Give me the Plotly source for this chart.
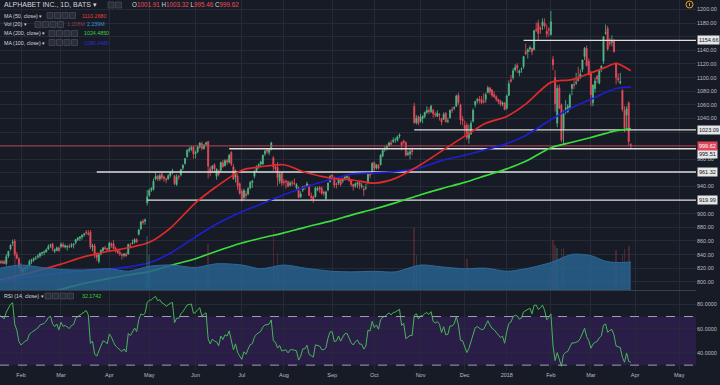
import plotly.graph_objects as go
import pandas as pd
import numpy as np

# ---------------- DATA ----------------
HOLIDAYS = ['2017-01-16', '2017-02-20', '2017-04-14', '2017-05-29', '2017-07-04', '2017-09-04',
            '2017-11-23', '2017-12-25', '2018-01-01', '2018-01-15', '2018-02-19', '2018-03-30']

# Dec 2016 closes (only used to warm up the RSI)
WARMUP_CLOSE = [768, 770, 780, 786, 792, 798, 809, 807, 815, 812, 817, 809, 813, 815, 813, 808, 808, 809, 803, 802, 792]

open_ = [
    800, 809, 808, 814, 826, 829, 827, 828, 831, 830, 829, 830, 830, 827, 838, 848, 857, 860, 840, 834,  # Jan 17
    824, 815, 820, 821, 823, 830, 832, 835, 837, 838, 842, 843, 844, 848, 853, 856, 845, 846, 850,  # Feb
    852, 855, 851, 851, 852, 852, 854, 858, 862, 864, 866, 869, 873, 871, 873, 851, 853, 840, 830, 841, 846, 850, 849,  # Mar
    848, 856, 856, 849, 846, 843, 840, 839, 841, 841, 853, 856, 858, 862, 870, 878, 889, 889, 916,  # Apr
    927, 935, 936, 951, 955, 951, 958, 954, 951, 951, 956, 962, 956, 943, 955, 957, 967, 974, 984, 993, 995, 998,  # May
    988, 991, 998, 1003, 996, 1002, 1006, 966, 966, 972, 955, 963, 964, 975, 971, 978, 976, 990, 969, 954, 955, 944,  # Jun
    933, 924, 929, 929, 938, 946, 955, 963, 970, 973, 973, 988, 994, 990, 995, 982, 969, 968, 948, 960,  # Jul
    947, 948, 947, 942, 946, 945, 938, 938, 925, 935, 940, 941, 942, 926, 925, 925, 935, 939, 938, 932, 922, 935, 947,  # Aug
    957, 953, 944, 945, 950, 948, 952, 953, 953, 949, 943, 941, 944, 946, 940, 936, 938, 945, 958, 960,  # Sep
    975, 967, 971, 972, 985, 995, 997, 1000, 1004, 1006, 1009, 1008, 1014, 1005, 1007, 1005, 987, 988, 993, 1058, 1034, 1043,  # Oct
    1036, 1040, 1043, 1049, 1052, 1050, 1052, 1046, 1043, 1046, 1040, 1039, 1048, 1036, 1041, 1053, 1055, 1058, 1074, 1060, 1039,  # Nov
    1030, 1030, 1011, 1017, 1036, 1060, 1066, 1068, 1068, 1066, 1068, 1078, 1085, 1082, 1075, 1072, 1068, 1066, 1061, 1063,  # Dec
    1055, 1074, 1097, 1100, 1111, 1118, 1107, 1112, 1116, 1138, 1138, 1142, 1143, 1141, 1171, 1180, 1173, 1176, 1180, 1168, 1171,  # Jan 18
    1163, 1127, 1100, 1033, 1085, 1060, 1025, 1053, 1050, 1054, 1084, 1090, 1092, 1100, 1101, 1112, 1131, 1143, 1124,  # Feb
    1107, 1063, 1084, 1102, 1092, 1114, 1124, 1165, 1172, 1152, 1152, 1155, 1121, 1099, 1092, 1081, 1052, 1045, 1063, 1001.91,  # Mar
]
high = [
    811, 813, 816, 828, 834, 833, 831, 831, 835, 831, 832, 832, 832, 841, 845, 855, 862, 863, 844, 836,
    827, 821, 823, 825, 833, 834, 836, 838, 841, 843, 844, 846, 849, 855, 856, 857, 849, 852, 852,
    858, 858, 855, 854, 856, 857, 857, 863, 866, 867, 870, 872, 876, 876, 876, 856, 856, 843, 842, 848, 851, 853, 850,
    859, 858, 861, 852, 848, 847, 842, 842, 843, 856, 857, 862, 864, 864, 878, 890, 892, 893, 935,
    937, 939, 952, 960, 957, 959, 962, 956, 953, 958, 962, 966, 957, 958, 957, 966, 973, 982, 995, 998, 1000, 999,
    993, 1000, 1005, 1006, 1002, 1006, 1007, 970, 972, 974, 967, 965, 977, 979, 980, 981, 988, 992, 973, 965, 958, 946,
    936, 937, 934, 939, 948, 950, 964, 971, 974, 978, 987, 994, 995, 995, 1006, 985, 973, 976, 961, 961,
    951, 950, 949, 948, 949, 952, 945, 940, 933, 941, 942, 947, 943, 931, 927, 940, 940, 941, 940, 934, 934, 946, 957,
    958, 955, 946, 952, 951, 953, 957, 958, 956, 951, 944, 946, 947, 947, 945, 941, 944, 960, 961, 976,
    977, 973, 973, 988, 995, 1000, 1002, 1006, 1008, 1012, 1012, 1015, 1018, 1006, 1009, 1006, 993, 995, 997, 1063, 1045, 1044,
    1047, 1045, 1050, 1058, 1056, 1060, 1054, 1050, 1052, 1048, 1041, 1049, 1049, 1041, 1053, 1057, 1058, 1075, 1078, 1062, 1044,
    1037, 1034, 1031, 1037, 1055, 1066, 1070, 1073, 1073, 1077, 1078, 1088, 1086, 1083, 1080, 1074, 1069, 1067, 1065, 1064,
    1075, 1096, 1104, 1114, 1120, 1121, 1112, 1115, 1132, 1150, 1143, 1147, 1144, 1170, 1181, 1185, 1176, 1187, 1187, 1178, 1174,
    1198, 1132, 1111, 1089, 1090, 1062, 1052, 1067, 1061, 1077, 1090, 1099, 1107, 1116, 1112, 1126, 1145, 1147, 1128,
    1110, 1090, 1100, 1104, 1112, 1118, 1161, 1178, 1176, 1158, 1162, 1156, 1122, 1106, 1107, 1083, 1058, 1058, 1065, 1003.32,
]
low = [
    796, 804, 805, 811, 826, 826, 823, 821, 829, 822, 826, 826, 826, 824, 835, 846, 853, 838, 833, 819,
    813, 811, 816, 818, 822, 826, 829, 832, 834, 835, 838, 839, 843, 847, 850, 845, 842, 845, 844,
    849, 850, 849, 846, 850, 850, 849, 855, 860, 860, 862, 866, 869, 868, 848, 845, 835, 831, 827, 839, 844, 847, 845,
    845, 850, 848, 843, 841, 838, 833, 836, 837, 840, 851, 855, 856, 857, 868, 876, 884, 884, 912,
    925, 932, 934, 949, 948, 948, 950, 947, 945, 950, 953, 958, 942, 941, 950, 955, 964, 972, 982, 990, 992, 981,
    981, 989, 996, 993, 994, 999, 952, 955, 960, 960, 950, 955, 962, 968, 969, 972, 974, 970, 950, 946, 935, 928,
    918, 920, 922, 927, 936, 938, 952, 961, 966, 970, 972, 985, 988, 986, 993, 963, 962, 941, 944, 941,
    942, 937, 939, 940, 941, 942, 934, 923, 923, 932, 935, 939, 926, 920, 916, 924, 933, 931, 928, 926, 921, 933, 946,
    951, 938, 937, 942, 940, 945, 949, 952, 947, 940, 934, 938, 938, 936, 937, 926, 935, 943, 952, 958,
    962, 965, 965, 971, 983, 991, 993, 998, 1000, 1004, 1004, 1006, 1011, 993, 1002, 984, 985, 980, 986, 1032, 1031, 1030,
    1034, 1033, 1040, 1047, 1046, 1048, 1041, 1042, 1042, 1037, 1030, 1038, 1034, 1033, 1040, 1048, 1052, 1057, 1060, 1031, 1030,
    1016, 1008, 1003, 1016, 1034, 1056, 1062, 1062, 1061, 1062, 1063, 1077, 1075, 1071, 1070, 1065, 1061, 1058, 1058, 1052,
    1053, 1073, 1092, 1097, 1109, 1107, 1102, 1107, 1113, 1133, 1128, 1138, 1133, 1140, 1167, 1155, 1164, 1170, 1172, 1159, 1160,
    1162, 1111, 1050, 1027, 1054, 1005, 1002, 1046, 1048, 1053, 1074, 1083, 1089, 1095, 1098, 1108, 1126, 1116, 1104,
    1058, 1058, 1078, 1092, 1090, 1108, 1120, 1163, 1139, 1146, 1146, 1137, 1090, 1093, 1090, 1050, 1020, 1023, 1000, 995.46,
]
close = [
    809, 808, 813, 826, 829, 829, 830, 830, 831, 827, 829, 828, 827, 837, 845, 854, 858, 841, 835, 821,
    816, 819, 821, 822, 830, 832, 834, 835, 838, 842, 843, 844, 847, 852, 854, 849, 847, 850, 846,
    855, 852, 853, 852, 851, 854, 855, 862, 864, 866, 868, 870, 872, 870, 851, 853, 839, 836, 840, 846, 850, 849, 847,
    857, 854, 849, 845, 843, 841, 839, 841, 838, 855, 853, 857, 862, 859, 876, 888, 887, 891, 925,
    934, 937, 948, 955, 951, 956, 953, 952, 950, 956, 960, 963, 944, 954, 954, 965, 971, 981, 993, 995, 997, 988,
    990, 998, 1004, 996, 1001, 1004, 970, 961, 970, 966, 965, 958, 975, 969, 978, 976, 986, 973, 951, 962, 941, 930,
    920, 934, 927, 937, 946, 948, 962, 969, 972, 976, 986, 992, 992, 994, 1004, 969, 966, 953, 958, 945,
    946, 947, 940, 945, 945, 944, 943, 924, 929, 939, 939, 944, 927, 924, 921, 938, 937, 936, 930, 930, 932, 945, 955,
    955, 942, 943, 950, 943, 949, 954, 955, 949, 943, 940, 944, 946, 941, 941, 935, 938, 958, 957, 974,
    967, 972, 967, 986, 993, 995, 999, 1004, 1002, 1008, 1009, 1013, 1016, 1001, 1005, 986, 989, 991, 991, 1034, 1040, 1033,
    1042, 1043, 1049, 1052, 1050, 1058, 1047, 1045, 1048, 1045, 1035, 1046, 1035, 1036, 1052, 1052, 1056, 1073, 1063, 1038, 1037,
    1025, 1012, 1019, 1033, 1052, 1065, 1068, 1066, 1063, 1064, 1075, 1085, 1079, 1074, 1072, 1068, 1065, 1061, 1063, 1053,
    1073, 1091, 1095, 1110, 1115, 1114, 1110, 1113, 1131, 1135, 1141, 1144, 1138, 1169, 1170, 1165, 1171, 1182, 1176, 1164, 1170,
    1182, 1119, 1062, 1084, 1055, 1008, 1047, 1055, 1058, 1074, 1090, 1089, 1093, 1095, 1105, 1126, 1143, 1118, 1104,
    1075, 1089, 1095, 1098, 1110, 1117, 1160, 1166, 1142, 1150, 1153, 1138, 1100, 1097, 1094, 1053, 1026, 1054, 1006, 999.62,
]

# moving averages and volume MA at these dates
MA_DATES = ['2017-01-18', '2017-02-01', '2017-02-15', '2017-03-01', '2017-03-15', '2017-04-03', '2017-04-17',
            '2017-05-01', '2017-05-15', '2017-06-01', '2017-06-15', '2017-07-03', '2017-07-17', '2017-08-01',
            '2017-08-15', '2017-09-01', '2017-09-15', '2017-10-02', '2017-10-16', '2017-11-01', '2017-11-15',
            '2017-12-01', '2017-12-15', '2018-01-02', '2018-01-16', '2018-02-01', '2018-02-15', '2018-03-01',
            '2018-03-12', '2018-03-19', '2018-03-28']
MA50 = [803, 810, 818, 826, 836, 845, 850, 858, 879, 916, 940, 964, 969, 972, 961, 952, 950, 945, 952, 972, 992,
        1014, 1033, 1043, 1061, 1093, 1097, 1107, 1115, 1121, 1110]
MA100 = [800, 806, 810, 813, 816, 819, 822, 828, 842, 866, 885, 903, 914, 928, 939, 951, 958, 960, 962, 968, 978,
         986, 994, 1003, 1015, 1038, 1056, 1068, 1078, 1084, 1086]
MA200 = [775, 779, 783, 789, 797, 805, 810, 815, 824, 834, 845, 857, 864, 872, 880, 890, 898, 907, 916, 928, 937,
         946, 956, 966, 977, 997, 1005, 1012, 1018, 1022, 1025]
VOL_MA = [1.75, 2.0, 1.8, 1.65, 1.6, 1.7, 1.5, 1.9, 2.0, 1.8, 2.1, 2.0, 1.7, 2.0, 1.75, 1.5, 1.45, 1.5, 1.45, 2.0,
          1.85, 1.7, 1.75, 1.5, 1.7, 2.2, 2.85, 2.75, 2.3, 2.2, 2.24]

VOL_SPIKE_DATES = ['2017-01-27', '2017-04-28', '2017-05-01', '2017-06-09', '2017-07-25', '2017-07-27',
                   '2017-10-27', '2017-10-30', '2017-12-04', '2018-02-02', '2018-02-05', '2018-02-06',
                   '2018-02-08', '2018-02-09', '2018-03-19', '2018-03-22', '2018-03-23', '2018-03-27']
VOL_SPIKES = [3.2, 4.3, 2.8, 3.7, 4.8, 3.0, 5.0, 2.8, 2.5, 4.0, 3.6, 3.4, 3.3, 3.4, 3.2, 2.9, 3.3, 3.5]

LEVELS = [1154.66, 1023.09, 995.51, 961.32, 919.99]
LEVEL_FROM = ['2018-01-12', '2017-10-27', '2017-06-23', '2017-03-24', '2017-04-28']
LAST_PRICE = 999.62

MONTH_TICKS = ['2017-02-01', '2017-03-01', '2017-04-03', '2017-05-01', '2017-06-01', '2017-07-03', '2017-08-01',
               '2017-09-01', '2017-10-02', '2017-11-01', '2017-12-01', '2018-01-02', '2018-02-01', '2018-03-01',
               '2018-04-02', '2018-05-01']
MONTH_LABELS = ['Feb', 'Mar', 'Apr', 'May', 'Jun', 'Jul', 'Aug', 'Sep', 'Oct', 'Nov', 'Dec', '2018', 'Feb', 'Mar',
                'Apr', 'May']

X_START, X_END = '2017-01-18', '2018-05-11'

# ---------------- PREP ----------------
hol = set(pd.to_datetime(HOLIDAYS))
days = [d for d in pd.bdate_range('2017-01-03', '2018-03-28') if d not in hol]
assert len(days) == len(close) == len(open_) == len(high) == len(low)

# RSI(14), Wilder smoothing
allc = np.array(WARMUP_CLOSE + close, dtype=float)
d = np.diff(allc)
gain = np.clip(d, 0, None)
loss = np.clip(-d, 0, None)
P = 14
rsi = np.full(len(allc), np.nan)
ag, al = gain[:P].mean(), loss[:P].mean()
rsi[P] = 100 - 100 / (1 + ag / al)
for i in range(P, len(d)):
    ag = (ag * (P - 1) + gain[i]) / P
    al = (al * (P - 1) + loss[i]) / P
    rsi[i + 1] = 100 - 100 / (1 + ag / al)
rsi_vis = rsi[len(WARMUP_CLOSE):]

UP, DN = '#53b987', '#eb4d5c'
BG = '#171b26'
GRID = '#262a36'
FONT = 'Liberation Sans, Arial, sans-serif'

idx = {dd.strftime('%Y-%m-%d'): i for i, dd in enumerate(days)}
spike_cols = []
for s in VOL_SPIKE_DATES:
    i = idx[s]
    spike_cols.append('rgba(83,185,135,0.22)' if close[i] >= open_[i] else 'rgba(235,77,92,0.22)')

fig = go.Figure()
fig.add_trace(go.Bar(x=VOL_SPIKE_DATES, y=VOL_SPIKES, marker_color=spike_cols, marker_line_width=0,
                     width=86400000 * 0.8, yaxis='y2', hoverinfo='skip'))
fig.add_trace(go.Scatter(x=MA_DATES, y=VOL_MA, mode='lines', fill='tozeroy', yaxis='y2',
                         line=dict(color='#2d6a9c', width=1, shape='spline', smoothing=0.8),
                         fillcolor='rgba(40,98,142,0.85)', hoverinfo='skip'))
fig.add_trace(go.Scatter(x=[X_START, X_END], y=[LAST_PRICE, LAST_PRICE], mode='lines',
                         line=dict(color='#b8414f', width=1), hoverinfo='skip'))
for lv, lf in zip(LEVELS, LEVEL_FROM):
    fig.add_trace(go.Scatter(x=[lf, X_END], y=[lv, lv], mode='lines',
                             line=dict(color='#dedede', width=1.3), hoverinfo='skip'))
fig.add_trace(go.Candlestick(x=days, open=open_, high=high, low=low, close=close,
                             increasing=dict(line=dict(color=UP, width=0.8), fillcolor=UP),
                             decreasing=dict(line=dict(color=DN, width=0.8), fillcolor=DN),
                             whiskerwidth=0, hoverinfo='skip'))
for vals, col in [(MA200, '#3ddc3d'), (MA100, '#1f1fd0'), (MA50, '#e02a2a')]:
    fig.add_trace(go.Scatter(x=MA_DATES, y=vals, mode='lines',
                             line=dict(color=col, width=1.7, shape='spline', smoothing=0.8), hoverinfo='skip'))
fig.add_trace(go.Scatter(x=days, y=rsi_vis, mode='lines', yaxis='y3',
                         line=dict(color='#46b558', width=1), hoverinfo='skip'))

# ---------------- LAYOUT ----------------
W, H = 720, 385
PW, PH = 696, 370


def px(x):
    return x / PW


def py(y):
    return 1 - y / PH


HIDDEN = {1160, 1020, 1000, 960, 920}
PRICE_TICKS = list(range(800, 1201, 20))
price_text = ['' if v in HIDDEN else f'{v:.2f}' for v in PRICE_TICKS]

shapes = [
    dict(type='rect', xref='paper', yref='y3', x0=0, x1=1, y0=30, y1=70, fillcolor='#2a1e48',
         line=dict(width=0), layer='below'),
    dict(type='line', xref='paper', yref='y3', x0=0, x1=1, y0=70, y1=70,
         line=dict(color='#a09cb4', width=1, dash='dash')),
    dict(type='line', xref='paper', yref='y3', x0=0, x1=1, y0=30, y1=30,
         line=dict(color='#a09cb4', width=1, dash='dash')),
    dict(type='line', xref='paper', yref='paper', x0=0, x1=1, y0=py(290.5), y1=py(290.5),
         line=dict(color='#3a3e4a', width=1)),
    dict(type='circle', xref='paper', yref='paper', x0=px(686), x1=px(693), y0=py(8), y1=py(1),
         line=dict(color='#f0a030', width=1)),
    dict(type='line', xref='paper', yref='paper', x0=px(689.5), x1=px(689.5), y0=py(6), y1=py(3),
         line=dict(color='#f0a030', width=1)),
]


def boxes(x0, yc, k):
    for j in range(k):
        xx = x0 + j * 7.5
        shapes.append(dict(type='rect', xref='paper', yref='paper', x0=px(xx), x1=px(xx + 6),
                           y0=py(yc + 3), y1=py(yc - 3), fillcolor='#2a2e39',
                           line=dict(color='#4a4e5a', width=0.7)))


boxes(108, 5, 2)
boxes(47, 15.5, 4)
boxes(35, 24.5, 4)
boxes(49, 33.5, 4)
boxes(49, 42.5, 4)
boxes(45, 296, 4)

ann = []


def txt(x, y, s, size=5.3, color='#d1d4dc'):
    ann.append(dict(xref='paper', yref='paper', x=px(x), y=py(y), text=s, showarrow=False,
                    xanchor='left', yanchor='middle', font=dict(size=size, color=color, family=FONT)))


txt(2, 5, 'ALPHABET INC., 1D, BATS ▾', size=7)
R = '#eb4d5c'
txt(130, 5, f'O<span style="color:{R}">1001.91</span> H<span style="color:{R}">1003.32</span> '
            f'L<span style="color:{R}">995.46</span> C<span style="color:{R}">999.62</span>', size=6.3)
txt(2, 15.5, 'MA (50, close) ▾')
txt(80, 15.5, '1110.2680', color='#e0403a')
txt(2, 24.5, 'Vol (20) ▾')
txt(65, 24.5, '1.208M', color='#8e3b44')
txt(85, 24.5, '2.239M', color='#3d8fd9')
txt(2, 33.5, 'MA (200, close) ▾')
txt(82, 33.5, '1024.4850', color='#3ed13e')
txt(2, 42.5, 'MA (100, close) ▾')
txt(82, 42.5, '1086.4480', color='#2b2bd6')
txt(2, 296, 'RSI (14, close) ▾')
txt(80, 296, '32.1742', color='#3ed13e')

for lv in LEVELS:
    ann.append(dict(xref='paper', yref='y', x=1, y=lv, xanchor='left', yanchor='middle', xshift=1,
                    yshift=-5 if lv == 995.51 else 0, text=f'{lv:.2f}', showarrow=False,
                    bgcolor='#e6e6e6', borderpad=1,
                    font=dict(size=5.5, color='#131722', family=FONT)))
ann.append(dict(xref='paper', yref='y', x=1, y=LAST_PRICE, xanchor='left', yanchor='middle', xshift=1,
                text=f'{LAST_PRICE:.2f}', showarrow=False, bgcolor='#e0465a', borderpad=1,
                font=dict(size=5.5, color='#ffffff', family=FONT)))

tickfont = dict(size=5.5, color='#b8bcc6', family=FONT)
fig.update_layout(
    width=W, height=H, margin=dict(l=0, r=24, t=0, b=15, autoexpand=False),
    paper_bgcolor=BG, plot_bgcolor=BG, showlegend=False, bargap=0,
    xaxis=dict(type='date', range=[X_START, X_END], anchor='y3',
               rangebreaks=[dict(bounds=['sat', 'mon']), dict(values=HOLIDAYS)],
               rangeslider=dict(visible=False), tickvals=MONTH_TICKS, ticktext=MONTH_LABELS,
               showgrid=True, gridcolor=GRID, gridwidth=1, zeroline=False, showline=False, ticks='',
               tickfont=tickfont),
    yaxis=dict(domain=[py(290), 1], range=[788, 1214], side='right', tickvals=PRICE_TICKS, ticktext=price_text,
               showgrid=True, gridcolor=GRID, zeroline=False, ticks='', tickfont=tickfont, anchor='x'),
    yaxis2=dict(overlaying='y', range=[0, 23.2], visible=False),
    yaxis3=dict(domain=[0, py(291)], range=[26, 91], side='right', tickvals=[40, 60, 80],
                ticktext=['40.0000', '60.0000', '80.0000'], showgrid=True, gridcolor=GRID,
                zeroline=False, ticks='', tickfont=tickfont, anchor='x'),
    shapes=shapes, annotations=ann,
)

fig.write_html('out.html', config={'displayModeBar': False},
               post_script="document.body.style.margin='0px';document.body.style.overflow='hidden';"
                           "document.body.style.background='" + BG + "';")
